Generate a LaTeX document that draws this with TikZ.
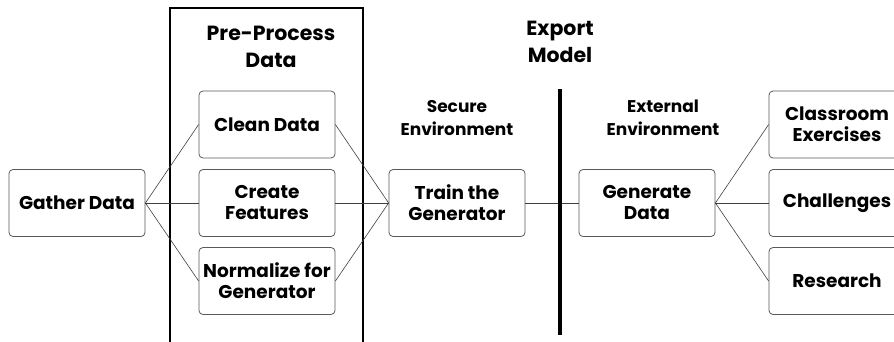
\documentclass[tikz,border=0pt]{standalone}
\usepackage{fontspec}
\setmainfont{Poppins}
\begin{document}
\begin{tikzpicture}[x = 1pt, y = -1pt, line width = 0.8pt,
		box/.style = {draw = black!65, rounded corners = 4pt, minimum width = 136pt,
			minimum height = 67pt, inner sep = 1pt, align = center,
			font = \fontsize{18.5}{21}\selectfont\bfseries},
		title/.style = {align = center, font = \fontsize{20.5}{27}\selectfont\bfseries},
		label/.style = {align = center, font = \fontsize{17}{23}\selectfont\bfseries},
		link/.style = {draw = black!75, line width = 0.6pt}]
		\useasboundingbox (0,0) rectangle (894,341);
		\draw [line width = 2pt] (170,345) -- (170,8) -- (363,8) -- (363,345);
		\node [title] (pre) at (271,47) {Pre-Process\\Data};
		\node [title] (export) at (560,42) {Export\\Model};
		\node [label] (secure) at (457,118) {Secure\\Environment};
		\node [label] (external) at (663,118) {External\\Environment};
		\coordinate (wall top) at (560,89);
		\coordinate (wall bottom) at (560,335);
		\node [box] (gather) at (77,203) {Gather Data};
		\node [box] (clean) at (267,124.5) {Clean Data};
		\node [box] (create) at (267,203) {Create\\Features};
		\node [box] (normalize) at (267,281) {Normalize for\\Generator};
		\node [box] (train) at (457,203) {Train the\\Generator};
		\node [box] (generate) at (647,203) {Generate\\Data};
		\node [box] (classroom) at (837,124.5) {Classroom\\Exercises};
		\node [box] (challenges) at (837,203) {Challenges};
		\node [box] (research) at (837,281) {Research};
		\foreach \n in {clean, create, normalize} {
			\draw [link] (gather.east) -- (\n.west);
			\draw [link] (\n.east) -- (train.west);
		}
		\draw [link] (train) -- (generate);
		\foreach \n in {classroom, challenges, research}
			\draw [link] (generate.east) -- (\n.west);
		\draw [line width = 4pt] (wall top) -- (wall bottom);
	\end{tikzpicture}
\end{document}
